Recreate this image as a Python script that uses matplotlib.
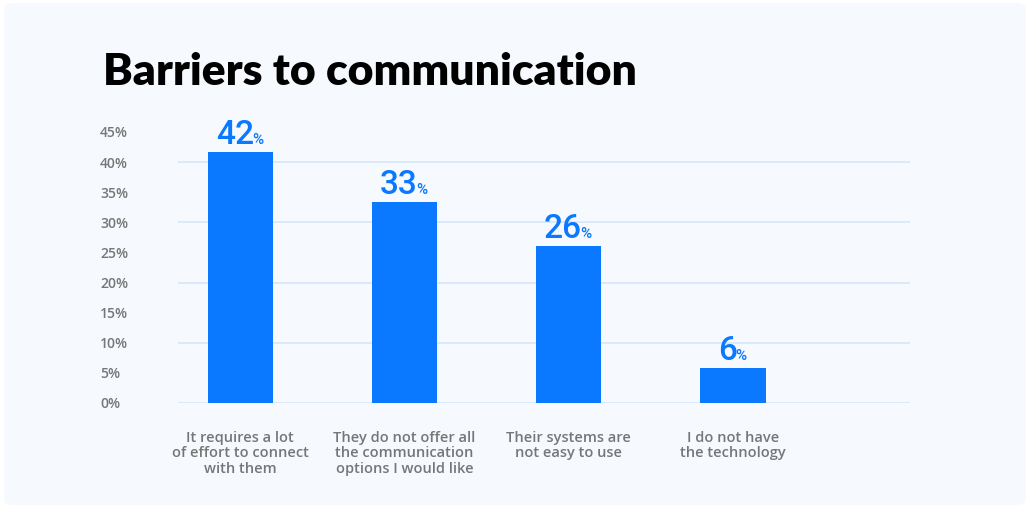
import matplotlib.pyplot as plt
from matplotlib.patches import FancyBboxPatch

categories = [
    "It requires a lot\nof effort to connect\nwith them",
    "They do not offer all\nthe communication\noptions I would like",
    "Their systems are\nnot easy to use",
    "I do not have\nthe technology",
]
values = [41.6, 33.3, 26.0, 5.8]
y_ticks = list(range(0, 50, 5))
grid_levels = [0, 10, 20, 30, 40]

BLUE = "#0a78ff"
GREY = "#767676"

fig = plt.figure(figsize=(10.3, 5.08), dpi=100, facecolor="white")

# light panel behind everything
panel = FancyBboxPatch((0.004, 0.006), 0.992, 0.988, boxstyle="round,pad=0,rounding_size=0.01",
                       transform=fig.transFigure, facecolor="#f6faff", edgecolor="none", zorder=-5)
fig.patches.append(panel)

ax = fig.add_axes([0.1728, 0.2067, 0.7107, 0.5335])
ax.set_facecolor("none")
ax.set_zorder(2)

x = list(range(len(categories)))
ax.bar(x, values, width=0.4, color=BLUE, zorder=3)

for lvl in grid_levels:
    ax.axhline(lvl, color="#d5e7fb", lw=1.2, zorder=1)

ax.set_xlim(-0.38, 4.08)
ax.set_ylim(0, 45)
ax.set_yticks(y_ticks)
ax.set_yticklabels([f"{t}%" for t in y_ticks], fontfamily="Open Sans", fontweight="semibold",
                   fontsize=10, color=GREY, ha="left")
ax.tick_params(axis="y", length=0, pad=56)
ax.set_xticks(x)
ax.set_xticklabels(categories, fontfamily="Open Sans", fontweight="semibold",
                   fontsize=10.5, color=GREY, linespacing=1.15)
ax.tick_params(axis="x", length=0, pad=20)
for s in ax.spines.values():
    s.set_visible(False)

# value labels: big number + small percent sign
for xi, v in zip(x, values):
    num = ax.annotate(f"{round(v)}", xy=(xi, v), xytext=(-4, 1), textcoords="offset points",
                      ha="center", va="bottom", fontsize=24, fontweight="medium",
                      color=BLUE, fontfamily="Roboto")
    ax.annotate("%", xy=(1, 0.12), xycoords=num, xytext=(-1, 0), textcoords="offset points",
                ha="left", va="bottom", fontsize=11, fontweight="medium",
                color=BLUE, fontfamily="Roboto")

fig.text(0.1, 1 - 85 / 508, "Barriers to communication", fontsize=32, fontweight="heavy",
         fontfamily="Lato", color="black", va="baseline", ha="left")

fig.savefig("out.png", dpi=100, facecolor="white")
